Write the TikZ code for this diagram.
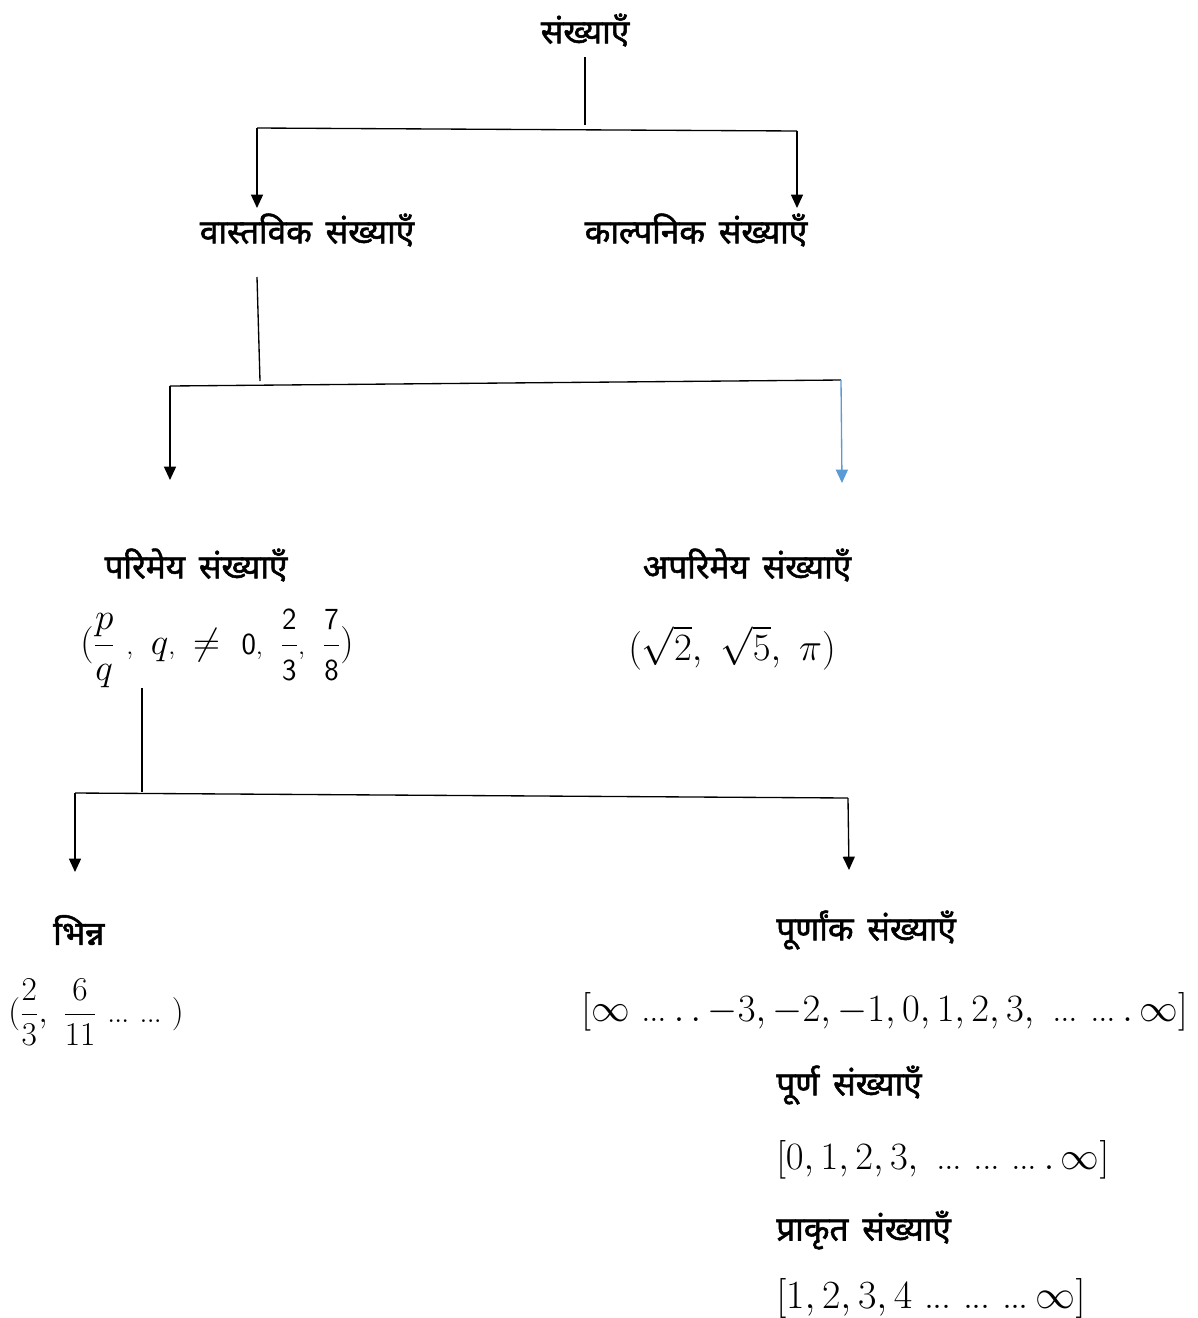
\RequirePackage{fix-cm}
\documentclass[tikz,border=0pt]{standalone}
\usepackage{fontspec}
\usepackage{amsmath}
\newfontfamily\hindi[Script=Devanagari,FakeBold=1.6,WordSpace=1.6]{Noto Sans}
\usetikzlibrary{arrows.meta}
\definecolor{arrblue}{RGB}{91,155,213}
\newcommand{\sfd}[1]{\textsf{\fontsize{23}{23}\selectfont #1}}
\newcommand{\dd}{\mathord{\hbox{.\kern-0.04em.\kern-0.04em.}}}
\tikzset{
  hd/.style={font=\hindi\fontsize{25}{28}\selectfont, inner sep=0pt},
  mt/.style={font=\fontsize{29}{33}\selectfont, inner sep=0pt},
  ln/.style={line width=1pt, black},
  arr/.style={line width=1pt, -{Triangle[width=9pt,length=10pt]}},
}
\begin{document}
\begin{tikzpicture}[x=0.75pt,y=-0.75pt]
\useasboundingbox (0,0) rectangle (1198,1318);
% nodes
\node[hd] (root) at (585,30) {संख्याएँ};
\node[hd] (real) at (307,230) {वास्तविक संख्याएँ};
\node[hd] (imag) at (696,230) {काल्पनिक संख्याएँ};
\node[hd] (rat) at (196,565) {परिमेय संख्याएँ};
\node[hd] (irr) at (747,565) {अपरिमेय संख्याएँ};
\node[mt, anchor=west, font=\fontsize{28}{32}\selectfont] (ratex) at (80,648) {$(\dfrac{p}{q}\ \scriptstyle,\ \displaystyle q\scriptstyle,\ \displaystyle\neq\ \sfd{0}\scriptstyle,\ \displaystyle\dfrac{\sfd{2}}{\sfd{3}}\scriptstyle,\ \displaystyle\dfrac{\sfd{7}}{\sfd{8}})$};
\node[mt] (irrex) at (732,648) {$(\sqrt{2},\ \sqrt{5},\ \pi)$};
\node[hd, anchor=west] (frac) at (53,930) {भिन्न};
\node[mt, anchor=west, font=\fontsize{25}{29}\selectfont] (fracex) at (8,1012) {$(\dfrac{2}{3},\ \dfrac{6}{11}\ \dd\ \dd\ )$};
\node[hd, anchor=west] (int) at (776,930) {पूर्णांक संख्याएँ};
\node[mt, anchor=east] (intex) at (1188,1012) {$[\infty\ \dd\,.\,.\,{-3},{-2},{-1},0,1,2,3,\ \dd\ \dd\,.\,\infty]$};
\node[hd, anchor=west] (whole) at (776,1085) {पूर्ण संख्याएँ};
\node[mt, anchor=west] (wholeex) at (776,1160) {$[0,1,2,3,\ \dd\ \dd\ \dd\,.\,\infty]$};
\node[hd, anchor=west] (nat) at (776,1230) {प्राकृत संख्याएँ};
\node[mt, anchor=west, font=\fontsize{30}{34}\selectfont] (natex) at (776,1298) {$[1,2,3,4\ \dd\ \dd\ \dd\,\infty]$};
% branch points
\coordinate (r1) at (585,57);
\coordinate (r2) at (585,125);
\coordinate (bL1) at (257,128);
\coordinate (bR1) at (797,131);
\coordinate (tL1) at (257,208);
\coordinate (tR1) at (797,208);
\coordinate (s1) at (257,277);
\coordinate (s2) at (260,381);
\coordinate (bL2) at (170,386);
\coordinate (bR2) at (841,380);
\coordinate (tL2) at (170,480);
\coordinate (tR2) at (842,483);
\coordinate (u1) at (142,688);
\coordinate (u2) at (142,792);
\coordinate (bL3) at (75,793);
\coordinate (bR3) at (848,798);
\coordinate (tL3) at (75,872);
\coordinate (tR3) at (849,870);
% connectors
\draw[ln] (r1) -- (r2);
\draw[ln] (bL1) -- (bR1);
\draw[arr] (bL1) -- (tL1);
\draw[arr] (bR1) -- (tR1);
\draw[ln] (s1) -- (s2);
\draw[ln] (bL2) -- (bR2);
\draw[arr] (bL2) -- (tL2);
\draw[arr, arrblue] (bR2) -- (tR2);
\draw[ln] (u1) -- (u2);
\draw[ln] (bL3) -- (bR3);
\draw[arr] (bL3) -- (tL3);
\draw[arr] (bR3) -- (tR3);
\end{tikzpicture}
\end{document}
